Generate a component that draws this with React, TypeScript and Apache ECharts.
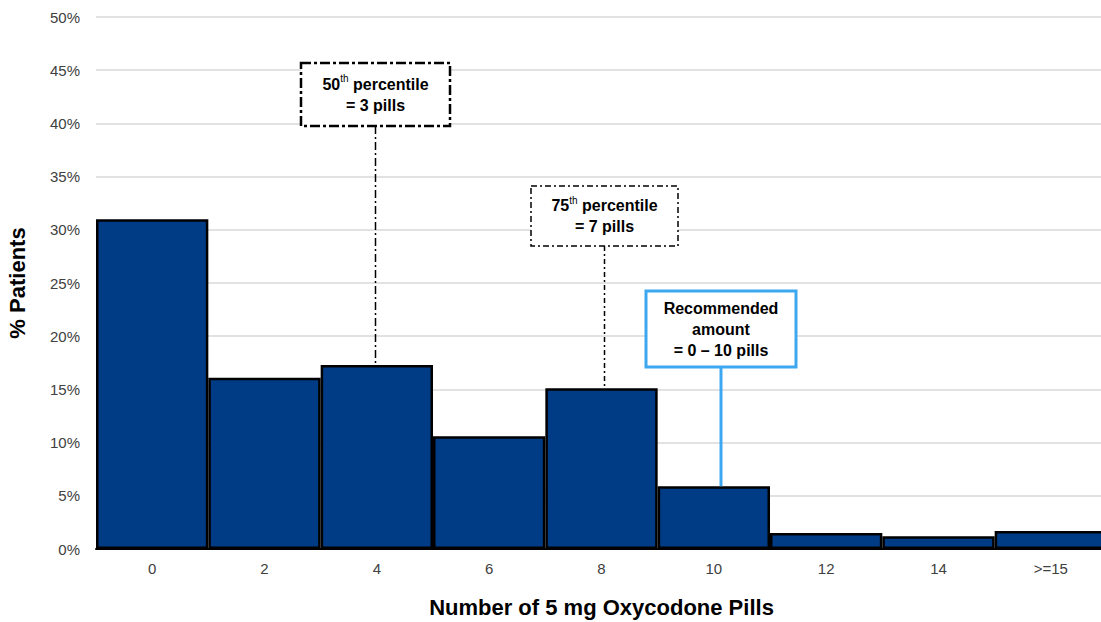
import React, { useEffect, useRef } from "react";
import * as echarts from "echarts";

const categories = ["0", "2", "4", "6", "8", "10", "12", "14", ">=15"];
const percentPatients = [31.0, 16.1, 17.3, 10.6, 15.1, 5.9, 1.5, 1.2, 1.7];
const yTicks = { min: 0, max: 50, interval: 5 };

const annotations = [
  { lines: ["{b|50}{sup|th}{b| percentile}", "{b|= 3 pills}"], barIndex: 2, box: [301, 63, 149, 63], color: "#000000", lineWidth: 2.5, boxDash: [10, 3, 3, 3], leaderDash: [8, 3, 2, 3], leaderWidth: 1.5 },
  { lines: ["{b|75}{sup|th}{b| percentile}", "{b|= 7 pills}"], barIndex: 4, box: [531, 186, 147, 60], color: "#000000", lineWidth: 1.5, boxDash: [6, 3, 2, 3], leaderDash: [5, 3, 2, 3], leaderWidth: 1.5 },
  { lines: ["{b|Recommended}", "{b|amount}", "{b|= 0 \u2013 10 pills}"], barIndex: 5, box: [646, 291, 150, 76], color: "#3da8f0", lineWidth: 3, boxDash: null, leaderDash: null, leaderWidth: 3 },
];

export default function App() {
  const ref = useRef<HTMLDivElement>(null);
  useEffect(() => {
    const chart = echarts.init(ref.current!, null, { renderer: "svg" });
    const font = "Liberation Sans, Arial, sans-serif";
    chart.setOption({
      animation: false,
      grid: { left: 96, top: 17, width: 1011, height: 532, outerBoundsMode: "none", containLabel: false },
      xAxis: {
        type: "category",
        data: categories,
        boundaryGap: true,
        axisTick: { show: false },
        axisLine: { lineStyle: { color: "#000", width: 2 } },
        axisLabel: { color: "#404040", fontFamily: font, fontSize: 15, margin: 12 },
        name: "Number of 5 mg Oxycodone Pills",
        nameLocation: "middle",
        nameGap: 47,
        nameTextStyle: { color: "#000", fontFamily: font, fontSize: 22, fontWeight: "bold" },
      },
      yAxis: {
        type: "value",
        min: yTicks.min,
        max: yTicks.max,
        interval: yTicks.interval,
        axisLine: { show: false },
        axisTick: { show: false },
        splitLine: { lineStyle: { color: "#d9d9d9", width: 1.5 } },
        axisLabel: { color: "#404040", fontFamily: font, fontSize: 15, margin: 16, formatter: "{value}%" },
        name: "% Patients",
        nameLocation: "middle",
        nameGap: 68,
        nameRotate: 90,
        nameTextStyle: { color: "#000", fontFamily: font, fontSize: 22, fontWeight: "bold" },
      },
      series: [
        {
          type: "bar",
          data: percentPatients,
          barCategoryGap: "0%",
          itemStyle: { color: "#003c85", borderColor: "#000", borderWidth: 2.5 },
        },
      ],
    });

    const graphics: any[] = [];
    annotations.forEach((a) => {
      const [bx, by, bw, bh] = a.box;
      const cx = bx + bw / 2;
      const barTop = chart.convertToPixel({ seriesIndex: 0 }, [a.barIndex, percentPatients[a.barIndex]]) as number[];
      graphics.push({
        type: "line",
        shape: { x1: cx, y1: by + bh, x2: cx, y2: barTop[1] },
        style: { stroke: a.color, lineWidth: a.leaderWidth, lineDash: a.leaderDash || undefined },
        z: 10,
      });
      graphics.push({
        type: "rect",
        shape: { x: bx, y: by, width: bw, height: bh },
        style: { fill: "#fff", stroke: a.color, lineWidth: a.lineWidth, lineDash: a.boxDash || undefined },
        z: 11,
      });
      graphics.push({
        type: "text",
        x: cx,
        y: by + bh / 2,
        style: {
          text: a.lines.join("\n"),
          align: "center",
          verticalAlign: "middle",
          rich: {
            b: { fontFamily: font, fontSize: 16, fontWeight: "bold", fill: "#000", lineHeight: 21 },
            sup: { fontFamily: font, fontSize: 10, fontWeight: "normal", fill: "#000", lineHeight: 21, verticalAlign: "top", padding: [0, 0, 6, 0] },
          },
        },
        z: 12,
      });
    });
    chart.setOption({ graphic: { elements: graphics } });

    return () => chart.dispose();
  }, []);
  return <div ref={ref} style={{ position: "absolute", left: 0, top: 0, width: 1101, height: 622, background: "#fff" }} />;
}
